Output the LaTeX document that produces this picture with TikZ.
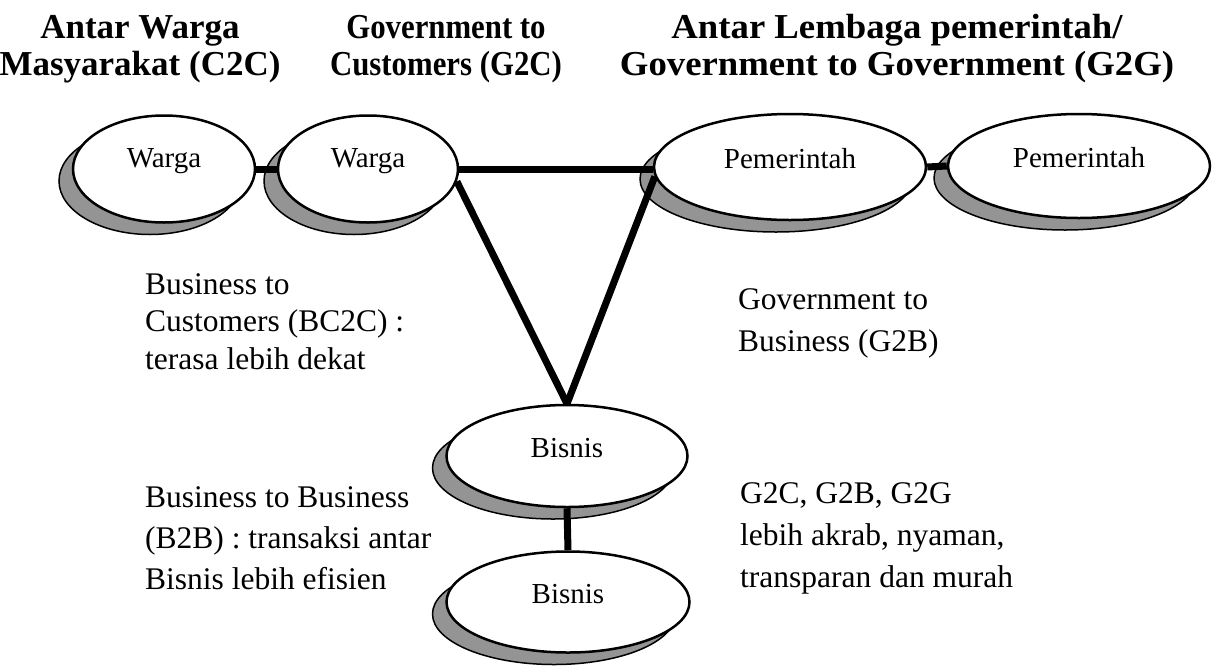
\documentclass[tikz,border=0pt]{standalone}
\usepackage{fontspec}
\setmainfont{Liberation Serif}
\usetikzlibrary{shadows,shapes.geometric}
\begin{document}
\begin{tikzpicture}[x=1pt,y=-1pt,
  ent/.style={ellipse, draw=black, line width=2.5pt, fill=white, inner sep=0pt,
     drop shadow={shadow xshift=-14pt, shadow yshift=-12pt, fill=black!42, draw=black, line width=1.5pt, opacity=1}},
  lbl/.style={font=\fontsize{29}{30}\selectfont, yshift=8pt, inner sep=0pt},
  link/.style={line width=7pt, draw=black},
  ttl/.style={font=\fontsize{35}{37}\selectfont\bfseries, align=center, inner sep=0pt},
  body/.style={align=left, inner sep=0pt, anchor=north west},
]
\useasboundingbox (0,0) rectangle (1212,667);
% titles
\node[ttl] (t1) at (140,49) {Antar Warga\\Masyarakat (C2C)};
\node[ttl] (t2) at (446,49) {\scalebox{0.88}[1]{Government to}\\\scalebox{0.88}[1]{Customers (G2C)}};
\node[ttl] (t3) at (897,49) {\scalebox{1.05}[1]{Antar Lembaga pemerintah/}\\\scalebox{1.05}[1]{Government to Government (G2G)}};
% entities
\node[ent, minimum width=182pt, minimum height=107pt, label={[lbl]center:Warga}] (w1) at (164,169) {};
\node[ent, minimum width=180pt, minimum height=107pt, label={[lbl]center:Warga}] (w2) at (368,169) {};
\node[ent, minimum width=272pt, minimum height=106pt, label={[lbl]center:Pemerintah}] (p1) at (790,167) {};
\node[ent, minimum width=262pt, minimum height=104pt, label={[lbl]center:Pemerintah}] (p2) at (1079,166) {};
\node[ent, minimum width=241pt, minimum height=102pt, label={[lbl]center:Bisnis}] (b1) at (567,456) {};
\node[ent, minimum width=243pt, minimum height=101pt, label={[lbl]center:Bisnis}] (b2) at (568,602) {};
% connectors
\draw[link] (w1.east) -- (w2.west);
\draw[link] (w2.east) -- (w2.east -| p1.west);
\draw[link] (p1.east) -- (p2.west);
\draw[link] (w2.-8.5) -- (b1.north);
\draw[link] (p1.184) -- (b1.north);
\draw[link] (b1.south) -- (b2.north);
% descriptions
\node[body, font=\fontsize{31.5}{37.5}\selectfont] (bc) at (145,273) {Business to\\Customers (BC2C) :\\terasa lebih dekat};
\node[body, font=\fontsize{31.5}{42}\selectfont] (gb) at (738,288) {Government to\\Business (G2B)};
\node[body, font=\fontsize{31.5}{41}\selectfont] (bb) at (145,486) {Business to Business\\(B2B) : transaksi antar\\Bisnis lebih efisien};
\node[body, font=\fontsize{31.5}{42}\selectfont] (gc) at (740,482) {G2C, G2B, G2G\\lebih akrab, nyaman,\\transparan dan murah};
\end{tikzpicture}
\end{document}
